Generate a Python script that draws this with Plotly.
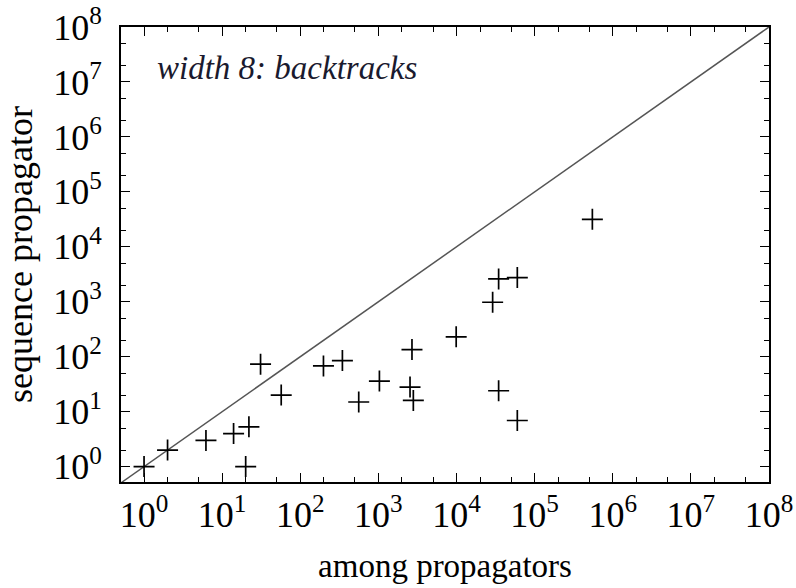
import plotly.graph_objects as go

# data
among = [1, 2, 6.2, 14, 22, 20, 31, 57, 198, 346, 560, 1030,
         2690, 2540, 2800, 9900, 29000, 34600, 60000, 34600, 60000, 548000]
sequence = [1, 2, 3, 4, 5.3, 1, 73, 20, 68, 85, 15, 36,
            135, 28, 16, 230, 980, 2600, 2750, 24, 6.9, 31600]

tick_vals = [10 ** i for i in range(9)]
tick_text = ["10<sup>%d</sup>" % i for i in range(9)]
minor_vals = [m * 10 ** i for i in range(-1, 9) for m in (2, 5)]
diag = [10 ** -0.4, 10 ** 8]

FONT = "Liberation Serif, Times New Roman, Times, serif"

fig = go.Figure()
fig.add_trace(go.Scatter(x=diag, y=diag, mode="lines",
                         line=dict(color="#555555", width=1.5),
                         showlegend=False, hoverinfo="skip"))
fig.add_trace(go.Scatter(x=among, y=sequence, mode="markers",
                         marker=dict(symbol="cross-thin", size=15,
                                     line=dict(color="black", width=1.7)),
                         showlegend=False))

axis_common = dict(
    type="log", tickmode="array", tickvals=tick_vals, ticktext=tick_text,
    ticks="inside", ticklen=9, tickwidth=1.2, tickcolor="black",
    showline=True, linecolor="black", linewidth=1.8, mirror="allticks",
    showgrid=False, zeroline=False, automargin=False,
    minor=dict(tickvals=minor_vals, ticks="inside", ticklen=5,
               tickwidth=1, tickcolor="black", showgrid=False),
    tickfont=dict(family=FONT, size=36, color="black"),
)

fig.update_xaxes(**axis_common, range=[-0.295, 8],
                 title=dict(text="among propagators",
                            font=dict(family=FONT, size=33, color="black"),
                            standoff=20))
fig.update_yaxes(**axis_common, range=[-0.28, 8], ticklabelstandoff=10,
                 title=dict(text="sequence propagator",
                            font=dict(family=FONT, size=36, color="black"),
                            standoff=12))

fig.add_annotation(x=0.052, y=0.91, xref="paper", yref="paper",
                   xanchor="left", yanchor="middle", showarrow=False,
                   text="<i>width 8: backtracks</i>",
                   font=dict(family=FONT, size=33, color="#1a1a2e"))

fig.update_layout(width=796, height=588, margin=dict(l=121, r=27, t=27, b=106),
                  plot_bgcolor="white", paper_bgcolor="white")

fig.write_html("out.html")
